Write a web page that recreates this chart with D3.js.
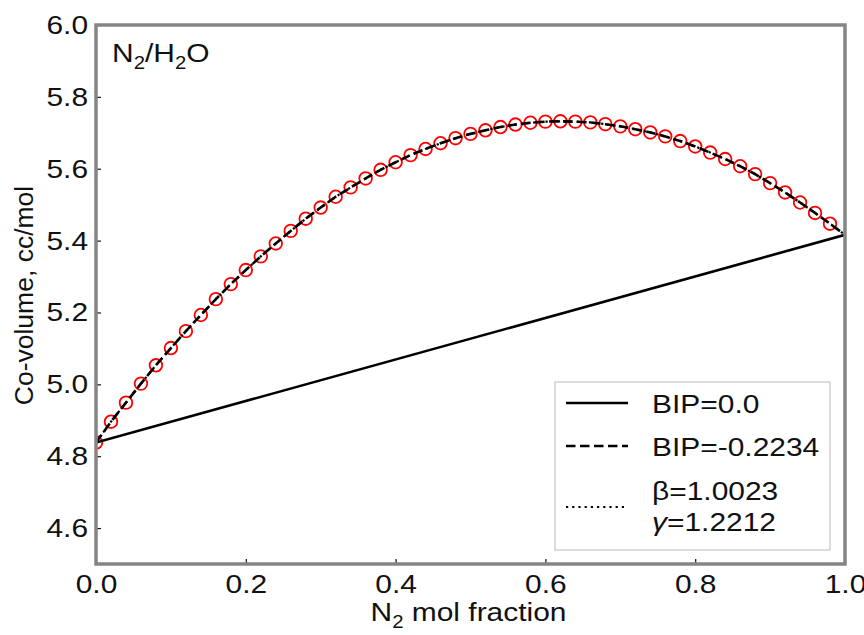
<!DOCTYPE html>
<html>
<head>
<meta charset="utf-8">
<script src="https://cdn.jsdelivr.net/npm/d3@7"></script>
<style>
  body { margin: 0; background: #fff; }
  svg { font-family: "Liberation Sans", Arial, sans-serif; }
  .axis text { font-size: 26.5px; fill: #111; }
  .axis line { stroke: #111; stroke-width: 1.2; }
</style>
</head>
<body>
<svg id="chart" width="864" height="635"></svg>
<script>
// N2 mole fraction grid
var xMol = [0.00, 0.02, 0.04, 0.06, 0.08, 0.10, 0.12, 0.14, 0.16, 0.18,
            0.20, 0.22, 0.24, 0.26, 0.28, 0.30, 0.32, 0.34, 0.36, 0.38,
            0.40, 0.42, 0.44, 0.46, 0.48, 0.50, 0.52, 0.54, 0.56, 0.58,
            0.60, 0.62, 0.64, 0.66, 0.68, 0.70, 0.72, 0.74, 0.76, 0.78,
            0.80, 0.82, 0.84, 0.86, 0.88, 0.90, 0.92, 0.94, 0.96, 0.98, 1.00];

// co-volume with BIP=-0.2234 (dashed)
var bipFit = [4.838, 4.896, 4.949, 5.002, 5.053, 5.101, 5.148, 5.193, 5.237, 5.279,
              5.318, 5.356, 5.392, 5.427, 5.461, 5.492, 5.522, 5.548, 5.573, 5.597,
              5.618, 5.638, 5.655, 5.671, 5.685, 5.697, 5.707, 5.716, 5.723, 5.728,
              5.731, 5.732, 5.731, 5.729, 5.724, 5.718, 5.710, 5.701, 5.690, 5.677,
              5.662, 5.645, 5.627, 5.607, 5.585, 5.560, 5.534, 5.506, 5.477, 5.447, 5.416];

// beta/gamma model (dotted) - sits under the dashed curve
var betaGamma = bipFit.slice();

// BIP=0.0 (solid, straight mixing)
var xEnds = [0.0, 1.0];
var bipZero = [4.838, 5.416];

// reference points (red circles)
var xPts = xMol.slice(0, 50);
var yPts = bipFit.slice(0, 50);

var xTicks = [0.0, 0.2, 0.4, 0.6, 0.8, 1.0];
var yTicks = [4.6, 4.8, 5.0, 5.2, 5.4, 5.6, 5.8, 6.0];

var legendLabels = ["BIP=0.0", "BIP=-0.2234", ["β=1.0023", "γ=1.2212"]];

var fs = 26.5, sub = 18, stretch = "scale(1.13,1)";

var svg = d3.select("#chart"),
    margin = {top: 25, right: 19, bottom: 71, left: 96},
    width = +svg.attr("width") - margin.left - margin.right,
    height = +svg.attr("height") - margin.top - margin.bottom,
    g = svg.append("g").attr("transform", "translate(" + margin.left + "," + margin.top + ")");

var x = d3.scaleLinear().domain([0, 1]).range([0, width]);
var y = d3.scaleLinear().domain([4.5, 6.0]).range([height, 0]);

g.append("clipPath").attr("id", "clip")
  .append("rect").attr("width", width).attr("height", height);

// axes, ticks pointing inward
var xAxis = g.append("g")
    .attr("class", "axis")
    .attr("transform", "translate(0," + height + ")")
    .call(d3.axisBottom(x).tickValues(xTicks).tickSize(-5).tickPadding(10).tickFormat(d3.format(".1f")));
xAxis.select(".domain").remove();
xAxis.selectAll("text").attr("transform", stretch);

var yAxis = g.append("g")
    .attr("class", "axis")
    .call(d3.axisLeft(y).tickValues(yTicks).tickSize(-5).tickPadding(7).tickFormat(d3.format(".1f")));
yAxis.select(".domain").remove();
yAxis.selectAll("text").attr("transform", stretch);

var plot = g.append("g").attr("clip-path", "url(#clip)");

var line = d3.line()
    .x(function(d) { return x(d[0]); })
    .y(function(d) { return y(d[1]); });

plot.selectAll("circle")
  .data(d3.zip(xPts, yPts))
  .enter().append("circle")
    .attr("cx", function(d) { return x(d[0]); })
    .attr("cy", function(d) { return y(d[1]); })
    .attr("r", 6.3)
    .attr("fill", "none")
    .attr("stroke", "#ff0000")
    .attr("stroke-width", 1.8);

plot.append("path")
    .datum(d3.zip(xMol, betaGamma))
    .attr("d", line)
    .attr("fill", "none")
    .attr("stroke", "#000")
    .attr("stroke-width", 2.2)
    .attr("stroke-dasharray", "2.2,4");

plot.append("path")
    .datum(d3.zip(xEnds, bipZero))
    .attr("d", line)
    .attr("fill", "none")
    .attr("stroke", "#000")
    .attr("stroke-width", 2.6);

plot.append("path")
    .datum(d3.zip(xMol, bipFit))
    .attr("d", line)
    .attr("fill", "none")
    .attr("stroke", "#000")
    .attr("stroke-width", 2.6)
    .attr("stroke-dasharray", "9.5,4.5");

// frame
g.append("rect")
    .attr("width", width)
    .attr("height", height)
    .attr("fill", "none")
    .attr("stroke", "#858585")
    .attr("stroke-width", 3.5);

// text with subscript pieces, e.g. [["N",0],["2",1],["/H",0],["2",1],["O",0]]
function subText(parent, tx, ty, parts, anchor) {
  var t = parent.append("text")
      .attr("transform", "translate(" + tx + "," + ty + ") " + stretch)
      .attr("text-anchor", anchor || "start")
      .attr("font-size", fs)
      .attr("fill", "#111");
  var low = 0;
  parts.forEach(function(p) {
    var s = t.append("tspan").text(p[0]);
    if (p[1] && !low) { s.attr("font-size", sub).attr("dy", 7); low = 1; }
    else if (!p[1] && low) { s.attr("dy", -7); low = 0; }
  });
  return t;
}

subText(g, 16, 37, [["N", 0], ["2", 1], ["/H", 0], ["2", 1], ["O", 0]]);
subText(svg, margin.left + width / 2 - 2, 621, [["N", 0], ["2", 1], [" mol fraction", 0]], "middle");

svg.append("text")
    .attr("transform", "translate(33," + (margin.top + height / 2 + 1) + ") rotate(-90)")
    .attr("text-anchor", "middle")
    .attr("font-size", fs)
    .attr("fill", "#111")
    .text("Co-volume, cc/mol");

// legend
var lg = svg.append("g").attr("transform", "translate(555,382)");
lg.append("rect")
    .attr("width", 275)
    .attr("height", 168)
    .attr("fill", "#fff")
    .attr("stroke", "#d0d0d0")
    .attr("stroke-width", 1.5);

var styles = [null, "9.5,4.5", "2.2,4"];
var rowsY = [21, 64, 125];
legendLabels.forEach(function(lab, i) {
  lg.append("line")
      .attr("x1", 11).attr("x2", 73)
      .attr("y1", rowsY[i]).attr("y2", rowsY[i])
      .attr("stroke", "#000")
      .attr("stroke-width", i === 2 ? 2.2 : 2.6)
      .attr("stroke-dasharray", styles[i]);
  if (Array.isArray(lab)) {
    var t1 = lg.append("text")
        .attr("transform", "translate(97," + (rowsY[i] - 7) + ") " + stretch)
        .attr("font-size", fs).attr("fill", "#111");
    t1.append("tspan").text(lab[0]);
    var t2 = lg.append("text")
        .attr("transform", "translate(97," + (rowsY[i] + 24) + ") " + stretch)
        .attr("font-size", fs).attr("fill", "#111");
    t2.append("tspan").attr("font-style", "italic").text(lab[1].slice(0, 1));
    t2.append("tspan").text(lab[1].slice(1));
  } else {
    lg.append("text")
        .attr("transform", "translate(97," + (rowsY[i] + 10) + ") " + stretch)
        .attr("font-size", fs).attr("fill", "#111")
        .text(lab);
  }
});
</script>
</body>
</html>
